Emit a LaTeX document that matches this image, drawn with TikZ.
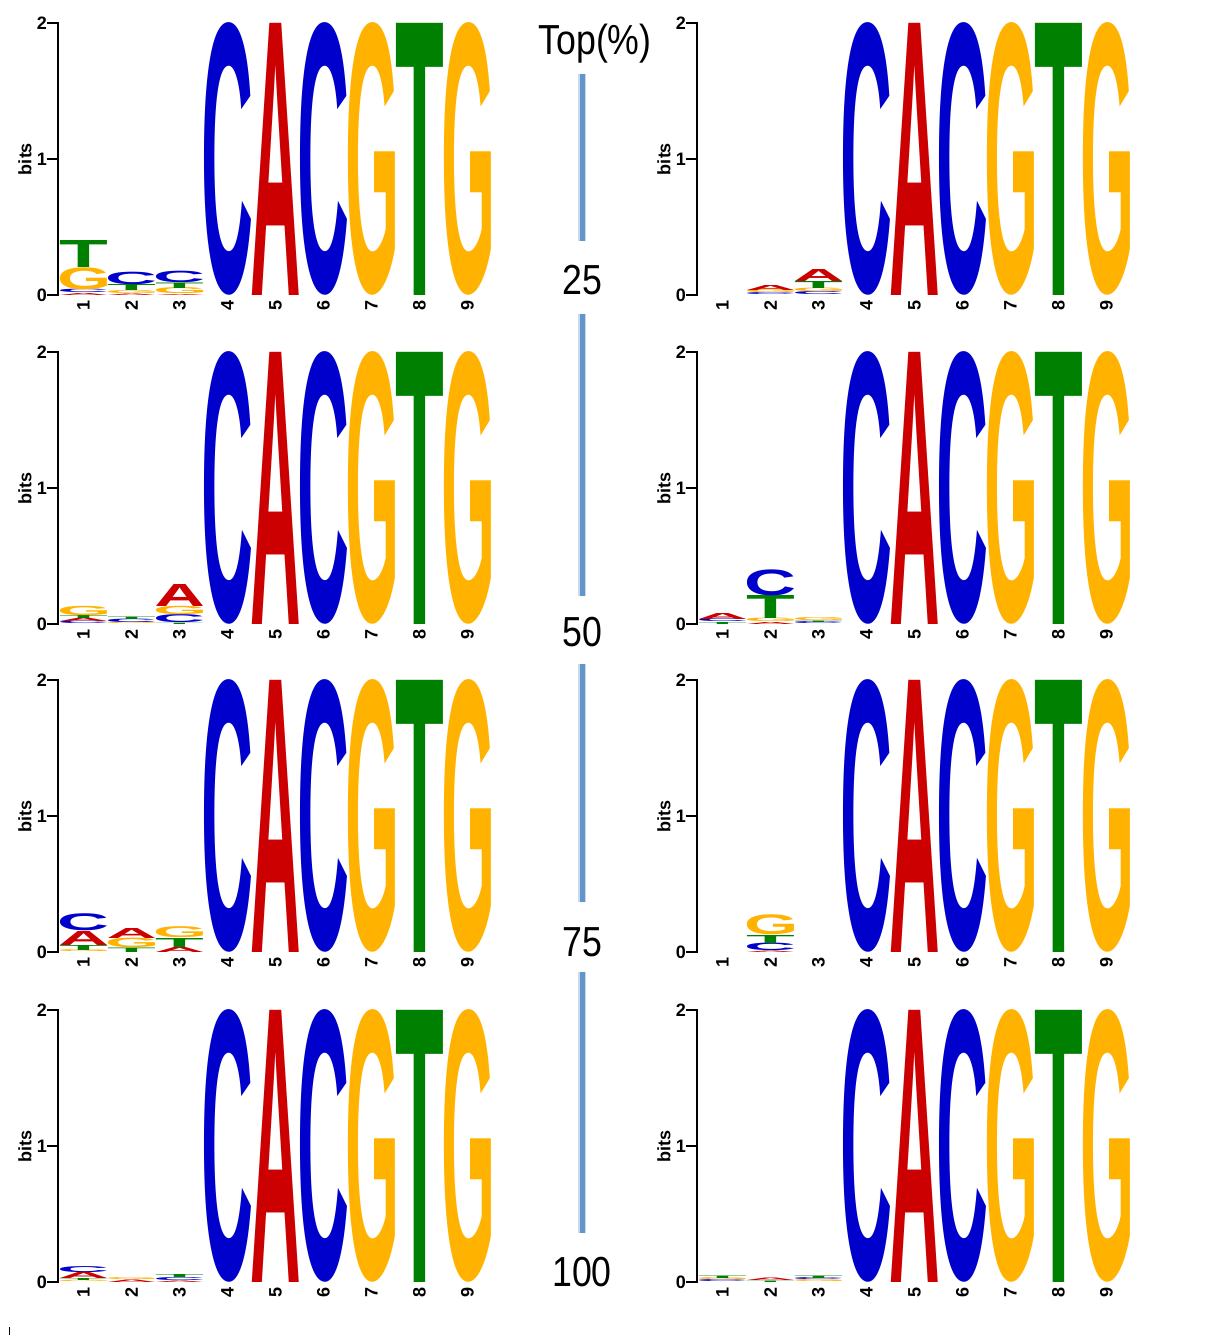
\documentclass[tikz,border=0pt]{standalone}
\usepackage{fontspec}
\setmainfont{Liberation Sans}
\usepackage{graphicx}
\definecolor{lA}{RGB}{204,0,0}
\definecolor{lC}{RGB}{0,0,204}
\definecolor{lG}{RGB}{255,179,0}
\definecolor{lT}{RGB}{0,128,0}
\definecolor{barblue}{RGB}{98,150,200}
\definecolor{barglow}{RGB}{200,218,235}
\newcounter{ltc}
\newdimen\glsb \newdimen\grsb \newdimen\gtop \newdimen\gbot
\makeatletter
\newcommand\inkletter[1]{%
  \begingroup
  \count@=\XeTeXcharglyph`#1\relax
  \glsb=\XeTeXglyphbounds1 \count@
  \gtop=\XeTeXglyphbounds2 \count@
  \grsb=\XeTeXglyphbounds3 \count@
  \gbot=\XeTeXglyphbounds4 \count@
  \setbox\z@=\hbox{\kern-\glsb\raise\gbot\hbox{#1}\kern-\grsb}%
  \ht\z@=\dimexpr\gtop+\gbot\relax \dp\z@=\z@
  \box\z@
  \endgroup}
\makeatother
\newcommand\logocol[3]{% #1 left x, #2 baseline y, #3 list L/H
  \xdef\cury{#2}%
  \foreach \L/\H in {#3}{%
    \stepcounter{ltc}%
    \node[lt, text=l\L] (lt\arabic{ltc}) at (#1,\cury)
      {\resizebox{47pt}{\H pt}{\expandafter\inkletter\expandafter{\L}}};
    \pgfmathsetmacro\tmpy{\cury-\H}\xdef\cury{\tmpy}%
  }}
\newcommand\panel[3]{% #1 name, #2 x offset, #3 baseline
  \coordinate (#1-a0) at ({#2-2},#3);
  \coordinate (#1-a1) at ({#2-2},{#3-136});
  \coordinate (#1-a2) at ({#2-2},{#3-272});
  \coordinate (#1-t0) at ({#2-12},#3);
  \coordinate (#1-t1) at ({#2-12},{#3-136});
  \coordinate (#1-t2) at ({#2-12},{#3-272});
  \draw[axisline] (#1-t2) -- (#1-a2) -- (#1-a0) -- (#1-t0);
  \draw[axisline] (#1-t1) -- (#1-a1);
  \node[ticklab, anchor=east] (#1-l0) at ({#2-13},#3) {0};
  \node[ticklab, anchor=east] (#1-l1) at ({#2-13},{#3-136}) {1};
  \node[ticklab, anchor=east] (#1-l2) at ({#2-13},{#3-272}) {2};
  \node[bitslab] (#1-bits) at ({#2-35},{#3-136}) {bits};
  \foreach \i in {1,...,9}{
    \node[poslab] (#1-p\i) at ({#2+48*(\i-1)+23.5},{#3+10}) {\i};}
  \logocol{#2+144}{#3}{C/272}
  \logocol{#2+192}{#3}{A/272}
  \logocol{#2+240}{#3}{C/272}
  \logocol{#2+288}{#3}{G/272}
  \logocol{#2+336}{#3}{T/272}
  \logocol{#2+384}{#3}{G/272}
}
\begin{document}
\begin{tikzpicture}[x=1pt,y=-1pt,
  lt/.style={inner sep=0pt,outer sep=0pt,anchor=south west,font=\bfseries},
  axisline/.style={line width=1.4pt,line cap=rect},
  ticklab/.style={font=\bfseries\fontsize{18}{18}\selectfont,inner sep=0pt},
  poslab/.style={font=\bfseries\fontsize{18}{18}\selectfont,inner sep=0pt,rotate=90},
  bitslab/.style={font=\bfseries\fontsize{18}{18}\selectfont,inner sep=0pt,rotate=90},
  pct/.style={font=\fontsize{42}{42}\selectfont,inner sep=0pt,anchor=base},
  bar/.style={line width=5pt,draw=barblue},
  barhalo/.style={line width=8pt,draw=barglow}]
\fill[white] (0,0) rectangle (1212,1335);
\useasboundingbox (0,0) rectangle (1212,1335);
% panels
\panel{L1}{60}{295}
\panel{L2}{60}{624}
\panel{L3}{60}{952}
\panel{L4}{60}{1282}
\panel{R1}{699}{295}
\panel{R2}{699}{624}
\panel{R3}{699}{952}
\panel{R4}{699}{1282}
% small letters, row 1
\logocol{60}{295}{A/2,C/3.5,G/22,T/27}
\logocol{108}{295}{A/1.5,G/3,T/6,C/12.5}
\logocol{156}{295}{A/1,G/6,T/5.5,C/11.5}
\logocol{747}{295}{C/2,G/3,A/5}
\logocol{795}{295}{C/3,G/3.5,T/7,A/12}
% row 2
\logocol{60}{624}{C/2.5,A/3.3,T/3,G/9.3}
\logocol{108}{624}{G/1.5,C/3.5,T/2.5}
\logocol{156}{624}{T/1.3,C/8,G/8.3,A/22}
\logocol{699}{624}{T/2,C/3,A/6}
\logocol{747}{624}{A/2,G/3.5,T/23,C/26}
\logocol{795}{624}{C/2,T/1.5,G/3}
% row 3
\logocol{60}{952}{G/2,T/5,A/14,C/17}
\logocol{108}{952}{T/4.5,G/9.5,A/10}
\logocol{156}{952}{A/5,T/9,G/11}
\logocol{747}{952}{A/1.5,C/7.5,T/8,G/20}
% row 4
\logocol{60}{1282}{G/1.3,T/2,A/6,C/6}
\logocol{108}{1282}{A/2.5,G/2}
\logocol{156}{1282}{A/1.5,C/3,T/3}
\logocol{699}{1282}{C/2,G/2,T/2.5}
\logocol{747}{1282}{T/1.5,A/2.5}
\logocol{795}{1282}{G/2,C/2,T/2.5}
% middle scale
\node[pct] (top) at (595,55) {\scalebox{0.85}[1]{Top(\%)}};
\node[pct] (n25) at (582,294) {\scalebox{0.85}[1]{25}};
\node[pct] (n50) at (582,646) {\scalebox{0.85}[1]{50}};
\node[pct] (n75) at (582,956) {\scalebox{0.85}[1]{75}};
\node[pct] (n100) at (582,1286) {\scalebox{0.85}[1]{100}};
\coordinate (b1s) at (582,74);  \coordinate (b1e) at (582,241);
\coordinate (b2s) at (582,314); \coordinate (b2e) at (582,596);
\coordinate (b3s) at (582,664); \coordinate (b3e) at (582,902);
\coordinate (b4s) at (582,972); \coordinate (b4e) at (582,1233);
\foreach \k in {1,2,3,4}{\draw[barhalo] (b\k s) -- (b\k e);}
\foreach \k in {1,2,3,4}{\draw[bar] (b\k s) -- (b\k e);}
\coordinate (m1) at (9,1327); \coordinate (m2) at (9,1335);
\draw[line width=0.8pt] (m1) -- (m2);
\end{tikzpicture}
\end{document}
